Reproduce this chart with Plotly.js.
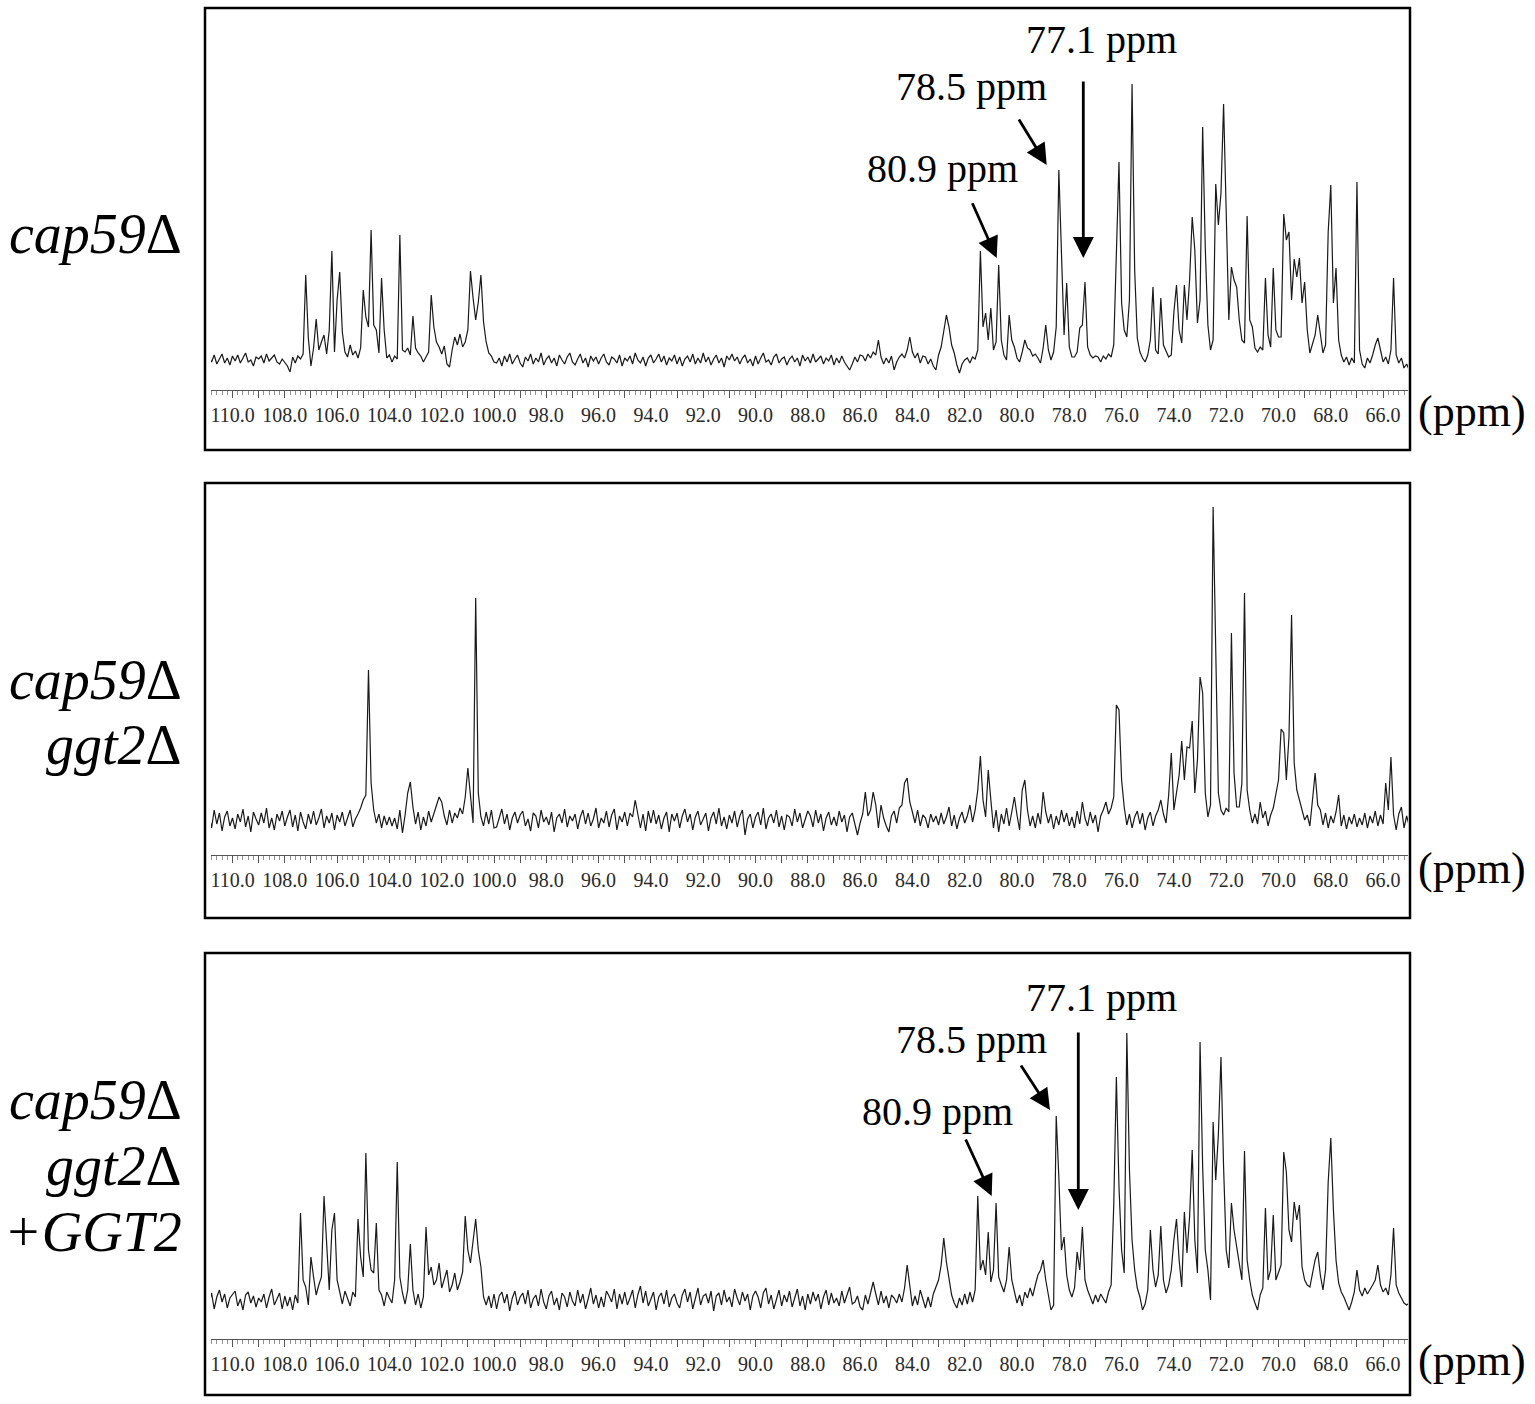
<!DOCTYPE html>
<html>
<head>
<meta charset="utf-8">
<script src="https://cdn.plot.ly/plotly-3.0.1.min.js"></script>
<style>html,body{margin:0;padding:0;background:#fff}</style>
</head>
<body>
<div id="chart" style="width:1535px;height:1404px"></div>
<script>
// ---------- DATA ----------
// Spectra sampled every 0.1 ppm, from 110.9 ppm down to 65.0 ppm.
// Each row = one ppm block (x.9 ... x.0). Intensities = height above baseline.
const ppmHigh = 110.9;
const ppmStep = 0.1;

const tickValues = [110,109,108,107,106,105,104,103,102,101,100,99,98,97,96,95,94,93,92,91,90,89,88,87,86,85,84,83,82,81,80,79,78,77,76,75,74,73,72,71,70,69,68,67,66];
const tickLabels = ["110.0","","108.0","","106.0","","104.0","","102.0","","100.0","","98.0","","96.0","","94.0","","92.0","","90.0","","88.0","","86.0","","84.0","","82.0","","80.0","","78.0","","76.0","","74.0","","72.0","","70.0","","68.0","","66.0"];

// cap59Δ
const intensity1 = [
  3,-2,5,-4,1,6,-3,2,-5,4,          // 110
  -1,5,-3,2,7,-2,0,-6,3,1,          // 109
  4,-3,6,-1,2,5,-2,-4,1,-3,         // 108
  -6,-12,3,-3,4,1,6,85,22,-6,       // 107
  12,41,10,18,25,6,30,109,8,60,     // 106
  88,28,8,3,15,5,9,2,12,70,         // 105
  43,33,130,35,30,7,82,30,2,5,      // 104
  -2,4,1,125,10,8,12,5,44,12,       // 103
  7,4,-2,3,8,65,33,18,13,6,         // 102
  14,-4,-7,10,23,15,26,13,18,30,    // 101
  89,62,40,58,85,38,18,7,4,-2,      // 100
  -3,2,-6,4,-2,6,-4,1,5,-3,         // 99
  -7,3,-1,6,-4,2,-2,7,-5,1,         // 98
  4,-3,2,-6,5,0,-4,3,7,-2,          // 97
  -5,1,6,-3,2,-7,4,-1,3,-4,         // 96
  2,6,-2,-5,3,1,-3,5,-6,2,          // 95
  -1,4,-4,7,0,-3,3,-6,2,5,          // 94
  -3,1,6,-2,4,-5,2,-1,5,-4,         // 93
  3,-6,1,4,-2,6,-4,2,-3,7,          // 92
  -2,3,-5,1,5,-3,2,-7,4,0,          // 91
  6,-1,3,-4,2,5,-3,1,-6,4,          // 90
  -4,2,7,-2,0,-5,3,6,-3,1,          // 89
  3,-5,1,4,-2,2,-6,5,-1,3,          // 88
  -3,6,-2,1,4,-4,2,-1,5,-5,         // 87
  2,-3,4,-2,-6,-10,-4,3,-2,5,       // 86
  4,-1,6,2,8,5,20,3,-4,2,           // 85
  -3,4,-10,-2,3,6,2,10,23,8,        // 84
  2,7,-3,4,3,-4,1,-6,-10,5,         // 83
  13,30,45,33,15,7,-5,-13,-4,0,     // 82
  2,-3,3,1,10,109,33,47,20,52,      // 81
  10,18,95,20,5,0,45,20,13,2,       // 80
  -2,8,20,12,10,4,6,2,-3,12,        // 79
  35,10,0,8,33,190,100,25,77,13,    // 78
  3,3,8,32,35,78,13,5,2,4,          // 77
  3,-2,4,1,6,3,15,113,198,57,       // 76
  30,23,60,276,90,22,8,2,-2,5,      // 75
  20,73,10,6,62,15,8,3,5,48,        // 74
  75,30,17,75,40,80,143,110,37,60,  // 73
  233,112,35,10,20,176,135,167,256,133, // 72
  40,93,80,73,40,20,17,144,40,33,   // 71
  12,8,13,10,82,25,13,92,30,23,     // 70
  23,146,120,128,60,101,83,102,57,78, // 69
  30,7,15,25,45,25,7,15,128,175,    // 68
  57,92,20,5,-2,3,-5,2,-3,178,      // 67
  10,-4,-8,2,-3,5,15,22,8,-2,       // 66
  3,-4,10,82,5,-3,2,-8,-4,-10       // 65
];

// cap59Δ ggt2Δ
const intensity2 = [
  5,-8,10,-4,7,-11,3,9,-6,2,        // 110
  -9,6,-2,11,-7,4,-12,8,1,-5,       // 109
  7,-3,12,-8,2,-10,6,-1,9,-6,       // 108
  3,10,-7,5,-11,8,-2,-9,6,-4,       // 107
  9,-5,2,11,-8,4,-3,7,-10,5,        // 106
  -2,8,-6,3,10,-7,1,6,12,20,        // 105
  25,150,37,10,-3,6,-8,4,-5,3,      // 104
  -6,2,-9,10,-13,5,27,38,13,-4,     // 103
  8,-10,3,-6,9,-2,6,14,23,18,       // 102
  4,-5,10,-3,7,2,12,6,23,52,        // 101
  20,-3,222,27,3,-6,8,-4,10,-8,     // 100
  -7,3,11,-4,6,-10,2,8,-3,5,        // 99
  9,-6,1,-11,7,4,-8,10,-2,3,        // 98
  -5,8,-12,2,6,-3,11,-7,4,-1,       // 97
  6,-9,3,10,-4,7,-6,1,12,-8,        // 96
  2,-3,9,-7,5,11,-10,4,-2,8,        // 95
  -6,7,3,20,4,-8,6,-11,9,-3,        // 94
  10,-4,5,-9,2,8,-12,6,-1,7,        // 93
  -8,4,11,-2,6,-10,3,9,-5,1,        // 92
  7,-11,2,8,-4,12,-6,3,-9,5,        // 91
  -3,9,-7,4,10,-15,1,6,-8,3,        // 90
  8,-5,12,-9,2,6,-3,10,-7,4,        // 89
  -10,5,3,-6,11,-2,7,-8,1,9,        // 88
  4,-7,10,-3,6,-11,2,8,-5,3,        // 87
  -6,9,-2,5,-12,3,7,-4,-15,-3,      // 86
  6,28,4,10,28,15,-8,15,2,-6,       // 85
  -12,4,9,-3,12,15,37,42,18,8,      // 84
  -3,10,-6,5,2,-8,6,-2,4,-5,        // 83
  7,-4,3,13,-6,5,-9,2,8,-3,         // 82
  4,15,-2,10,30,64,20,3,50,20,      // 81
  -8,10,-12,6,-4,12,-6,8,23,5,      // 80
  -10,30,40,10,-6,4,-8,7,-4,28,     // 79
  8,-3,6,-9,4,-5,10,-2,7,-6,        // 78
  3,-8,9,-4,18,2,-6,8,-3,5,         // 77
  -12,4,10,18,6,12,23,115,110,40,   // 76
  13,-5,6,-8,3,9,-4,7,-10,2,        // 75
  8,-6,4,10,20,6,-3,25,67,10,       // 74
  30,45,79,40,73,72,99,27,60,143,   // 73
  127,27,3,15,313,180,27,10,5,12,   // 72
  8,187,47,13,13,37,227,30,10,-3,   // 71
  6,-4,18,2,9,-6,5,12,27,40,        // 70
  91,87,40,83,205,57,30,20,8,0,     // 69
  5,-6,20,47,15,10,-5,7,-8,4,       // 68
  -3,8,25,-6,5,-9,3,-4,6,-7,        // 67
  2,-5,7,-8,4,-3,9,-6,5,-4,         // 66
  37,10,63,5,-10,6,13,-8,4,-6       // 65
];

// cap59Δ ggt2Δ +GGT2
const intensity3 = [
  -4,7,-9,3,10,-2,6,-8,2,5,         // 110
  9,-6,1,-10,5,8,-3,4,-7,2,         // 109
  -2,6,-8,3,11,-5,1,7,-9,4,         // 108
  -6,3,-10,5,-3,87,20,13,-5,43,     // 107
  23,5,15,23,104,50,10,70,87,20,    // 106
  7,-4,9,2,-6,8,3,81,43,23,         // 105
  147,50,30,27,77,10,5,-6,8,2,      // 104
  -3,20,138,23,7,-4,10,56,10,-5,    // 103
  6,-8,3,73,25,33,15,20,37,12,      // 102
  20,30,8,15,27,10,18,28,84,50,     // 101
  37,60,81,50,33,3,-5,4,-8,6,       // 100
  -9,4,8,-3,6,-11,2,9,-5,3,         // 99
  7,-4,10,-8,1,5,-6,11,-2,-9,       // 98
  4,9,-5,2,-10,7,3,-7,8,-1,         // 97
  -6,10,-3,6,-9,1,12,-4,5,-8,       // 96
  3,-7,9,4,-2,11,-9,6,-4,8,         // 95
  -5,2,10,-8,5,14,-3,9,-6,1,        // 94
  8,-10,3,7,-4,10,-7,2,6,-3,        // 93
  -8,5,11,-2,8,-9,3,12,-5,4,        // 92
  6,-3,9,-11,4,7,-5,10,-2,3,        // 91
  -7,11,2,-5,8,-1,6,-10,4,9,        // 90
  3,-8,7,12,-4,5,-9,2,10,-6,        // 89
  5,-2,9,-7,3,11,-6,4,-10,6,        // 88
  -4,8,-1,6,-9,3,10,-5,7,-3,        // 87
  2,-6,9,-3,5,13,-4,-2,4,-7,        // 86
  -10,5,-4,8,18,6,-5,9,-3,4,        // 85
  -8,5,2,-3,6,-2,12,35,15,-6,       // 84
  4,-5,10,2,-8,3,-7,6,13,20,        // 83
  35,62,38,20,5,-3,-8,2,-5,6,       // 82
  -4,8,-2,10,104,30,40,25,68,18,    // 81
  30,97,23,15,8,20,53,20,10,-3,     // 80
  5,-6,8,2,12,4,15,25,30,40,        // 79
  20,5,-10,-5,184,123,50,63,25,10,  // 78
  3,12,48,30,73,20,10,3,-4,5,       // 77
  -2,6,2,-3,8,15,95,223,113,50,     // 76
  27,267,130,60,30,12,3,-10,-4,10,  // 75
  70,30,13,25,74,20,7,15,30,60,     // 74
  81,40,13,88,47,83,150,60,27,258,  // 73
  133,50,30,0,178,120,165,243,133,50, // 72
  32,97,70,53,35,20,149,40,20,5,    // 71
  -3,-10,5,12,92,20,30,85,20,27,    // 70
  35,148,128,70,58,98,80,95,33,20,  // 69
  15,13,25,40,48,25,10,30,118,162,  // 68
  90,40,17,8,3,-4,-10,-2,8,30,      // 67
  10,4,12,6,10,15,20,35,15,8,       // 66
  12,5,25,72,15,7,2,-3,-5,-3        // 65
];

const strainLines = [
  ["<i>cap59</i>Δ"],
  ["<i>cap59</i>Δ", "<i>ggt2</i>Δ"],
  ["<i>cap59</i>Δ", "<i>ggt2</i>Δ", "<i>+GGT2</i>"]
];
const peakLabels = ["80.9 ppm", "78.5 ppm", "77.1 ppm"];
const unitLabel = "(ppm)";

// ---------- LAYOUT ----------
const W = 1535, H = 1404;
const FONT = "Liberation Serif, 'Times New Roman', serif";
const px = x => x / W;
const py = y => 1 - y / H;

const ppmGrid = intensity1.map((_, i) => +(ppmHigh - i * ppmStep).toFixed(1));

const panels = [
  {top: 8,   bottom: 450,  base: 360,  ruler: 390,  unitY: 412,  values: intensity1, lineY: [234],
   marks: [
     {label: [942, 168],  tip: [996.7, 258], tail: [971.7, 201.7]},
     {label: [971, 86],   tip: [1046.7, 165], tail: [1018, 118]},
     {label: [1101, 39],  tip: [1083.3, 258], tail: [1083.3, 80]}
   ]},
  {top: 483, bottom: 918,  base: 820,  ruler: 855,  unitY: 868,  values: intensity2, lineY: [680, 745], marks: []},
  {top: 953, bottom: 1395, base: 1300, ruler: 1339, unitY: 1360, values: intensity3, lineY: [1100, 1166, 1232],
   marks: [
     {label: [937, 1111], tip: [991.7, 1196], tail: [965, 1138]},
     {label: [971, 1039], tip: [1050, 1110], tail: [1020, 1064]},
     {label: [1101, 998], tip: [1078.3, 1210], tail: [1078.3, 1031]}
   ]}
];

const traces = [];
const layout = {
  width: W, height: H,
  margin: {l: 0, r: 0, t: 0, b: 0},
  paper_bgcolor: "#ffffff",
  plot_bgcolor: "rgba(0,0,0,0)",
  showlegend: false,
  shapes: [],
  annotations: []
};

const ppmLeft = 110 + (232.5 - 211) / 26.15;
const ppmRight = 110 - (1408 - 232.5) / 26.15;

panels.forEach((p, i) => {
  const sfx = i === 0 ? "" : String(i + 1);
  layout["xaxis" + sfx] = {
    domain: [px(211), px(1408)],
    range: [ppmLeft, ppmRight],
    anchor: "free",
    position: py(p.ruler),
    showline: true, linecolor: "#555", linewidth: 1,
    ticks: "outside", ticklen: 7, tickwidth: 1, tickcolor: "#555",
    tickmode: "array", tickvals: tickValues, ticktext: tickLabels,
    tickfont: {family: FONT, size: 20, color: "#2a2a2a"},
    minor: {tickmode: "linear", tick0: 0, dtick: 0.2, ticks: "outside", ticklen: 4, tickwidth: 0.8, tickcolor: "#777", showgrid: false},
    showgrid: false, zeroline: false, fixedrange: true
  };
  layout["yaxis" + sfx] = {
    domain: [py(p.bottom), py(p.top)],
    range: [p.base - p.bottom, p.base - p.top],
    visible: false, anchor: "free", position: 0,
    showgrid: false, zeroline: false, fixedrange: true
  };
  traces.push({
    x: ppmGrid, y: p.values,
    xaxis: "x" + sfx, yaxis: "y" + sfx,
    type: "scatter", mode: "lines",
    line: {color: "#1a1a1a", width: 1.2},
    hoverinfo: "skip"
  });
  layout.shapes.push({
    type: "rect", xref: "paper", yref: "paper",
    x0: px(205), x1: px(1410), y0: py(p.bottom), y1: py(p.top),
    line: {color: "#000", width: 2.5}
  });
  // strain labels
  strainLines[i].forEach((t, k) => {
    layout.annotations.push({
      text: t, xref: "paper", yref: "paper",
      x: px(184), y: py(p.lineY[k]), xanchor: "right", yanchor: "middle",
      showarrow: false, font: {family: FONT, size: 56, color: "#000"}
    });
  });
  // (ppm) unit
  layout.annotations.push({
    text: unitLabel, xref: "paper", yref: "paper",
    x: px(1416), y: py(p.unitY), xanchor: "left", yanchor: "middle",
    showarrow: false, font: {family: FONT, size: 44, color: "#000"}
  });
  // peak labels + arrows
  p.marks.forEach((m, k) => {
    layout.annotations.push({
      text: peakLabels[k], xref: "paper", yref: "paper",
      x: px(m.label[0]), y: py(m.label[1]), xanchor: "center", yanchor: "middle",
      showarrow: false, font: {family: FONT, size: 40, color: "#000"}
    });
    layout.annotations.push({
      text: "", xref: "paper", yref: "paper",
      x: px(m.tip[0]), y: py(m.tip[1]),
      ax: m.tail[0] - m.tip[0], ay: m.tail[1] - m.tip[1],
      axref: "pixel", ayref: "pixel",
      showarrow: true, arrowhead: 2, arrowsize: 1.5, arrowwidth: 2.8, arrowcolor: "#000"
    });
  });
});

Plotly.newPlot("chart", traces, layout, {staticPlot: true, displayModeBar: false});
</script>
</body>
</html>
